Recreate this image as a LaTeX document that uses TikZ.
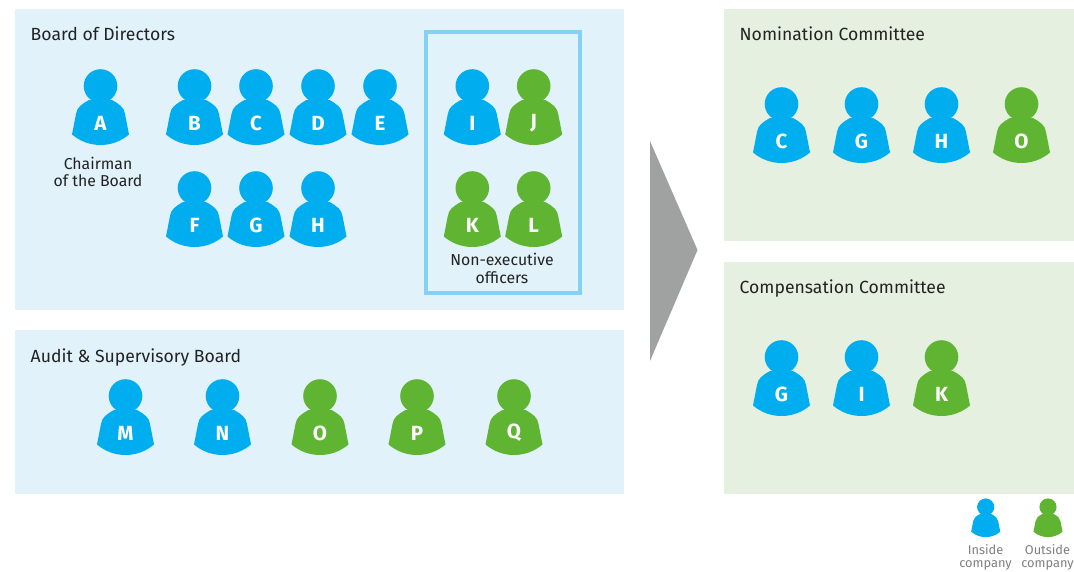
\documentclass[tikz,border=0pt]{standalone}
\usepackage{fontspec}
\setmainfont{Fira Sans}
\definecolor{inblue}{HTML}{00AEEF}
\definecolor{outgreen}{HTML}{5FB532}
\definecolor{panelblue}{HTML}{E1F2FB}
\definecolor{panelgreen}{HTML}{E5F0E0}
\definecolor{frameblue}{HTML}{85D0F5}
\definecolor{arrowgrey}{HTML}{A0A2A1}
\definecolor{inktext}{HTML}{222222}
\definecolor{legendtext}{HTML}{808080}
\tikzset{
  panel/.style={fill=#1,draw=none},
  paneltitle/.style={anchor=base west,font=\fontsize{17.6}{20}\selectfont,text=inktext,inner sep=0pt},
  note/.style={align=center,font=\fontsize{15.8}{17.5}\selectfont,text=inktext,inner sep=0pt},
  legendnote/.style={align=center,font=\fontsize{12.8}{13.5}\selectfont,text=legendtext,inner sep=0pt},
  letter/.style={font=\fontsize{20.5}{20.5}\selectfont\bfseries,text=white,inner sep=0pt},
}
% figure: x, y of head centre, colour, scale
\newcommand{\figshape}[4]{%
  \begin{scope}[shift={(#1,#2)},scale=#4]
    \fill[#3] (0,0) circle (16.8);
    \fill[#3] (-28.5,48.5) .. controls (-12,62.5) and (12,62.5) .. (28.5,48.5)
      -- (24.5,28) .. controls (23.5,21.5) and (19.5,18.5) .. (11.5,14)
      -- (-11.5,14) .. controls (-19.5,18.5) and (-23.5,21.5) .. (-24.5,28) -- cycle;
  \end{scope}}
\newcommand{\person}[5]{%
  \figshape{#2}{#3}{#4}{1}
  \node[letter] (#1) at (#2,#3+37) {#5};}
\begin{document}
\begin{tikzpicture}[x=1pt,y=-1pt]
\useasboundingbox (0,0) rectangle (1074,571);
\fill[white] (0,0) rectangle (1074,571);
\fill[panel=panelblue] (15,8.5) rectangle (624,309.5);
\fill[panel=panelblue] (15,330) rectangle (624,493.5);
\fill[panel=panelgreen] (724,8.5) rectangle (1074,240.5);
\fill[panel=panelgreen] (724,262) rectangle (1074,493.5);
\draw[frameblue,line width=4pt] (426,31.5) rectangle (580,293);
\fill[arrowgrey] (650,141) -- (697.5,250) -- (650,361) -- cycle;

\node[paneltitle] (tboard) at (30.5,40) {Board of Directors};
\node[paneltitle] (taudit) at (30.5,362) {Audit \& Supervisory Board};
\node[paneltitle] (tnom) at (739.5,40) {Nomination Committee};
\node[paneltitle] (tcomp) at (739.5,293) {Compensation Committee};

\person{bA}{100.5}{86}{inblue}{A}
\person{bB}{194.5}{86}{inblue}{B}
\person{bC}{256}{86}{inblue}{C}
\person{bD}{318}{86}{inblue}{D}
\person{bE}{380}{86}{inblue}{E}
\person{bF}{194.5}{188}{inblue}{F}
\person{bG}{256}{188}{inblue}{G}
\person{bH}{318}{188}{inblue}{H}
\person{bI}{472.3}{86}{inblue}{I}
\person{bJ}{533.7}{86}{outgreen}{J}
\person{bK}{472.3}{188}{outgreen}{K}
\person{bL}{533.7}{188}{outgreen}{L}
\node[note] (chair) at (98,172) {Chairman\\of the Board};
\node[note] (nonexec) at (502,268.5) {Non-executive\\officers};

\person{aM}{125.5}{396}{inblue}{M}
\person{aN}{222.5}{396}{inblue}{N}
\person{aO}{320}{396}{outgreen}{O}
\person{aP}{417}{396}{outgreen}{P}
\person{aQ}{514}{396}{outgreen}{Q}

\person{nC}{781.5}{104}{inblue}{C}
\person{nG}{861.5}{104}{inblue}{G}
\person{nH}{941.5}{104}{inblue}{H}
\person{nO}{1021.5}{104}{outgreen}{O}

\person{cG}{781.5}{357}{inblue}{G}
\person{cI}{861.5}{357}{inblue}{I}
\person{cK}{941.5}{357}{outgreen}{K}

\figshape{985.7}{507}{inblue}{.51}
\figshape{1048}{507}{outgreen}{.51}
\node[legendnote] (linside) at (985.5,557.5) {Inside\\company};
\node[legendnote] (loutside) at (1047.5,557.5) {Outside\\company};
\end{tikzpicture}
\end{document}
